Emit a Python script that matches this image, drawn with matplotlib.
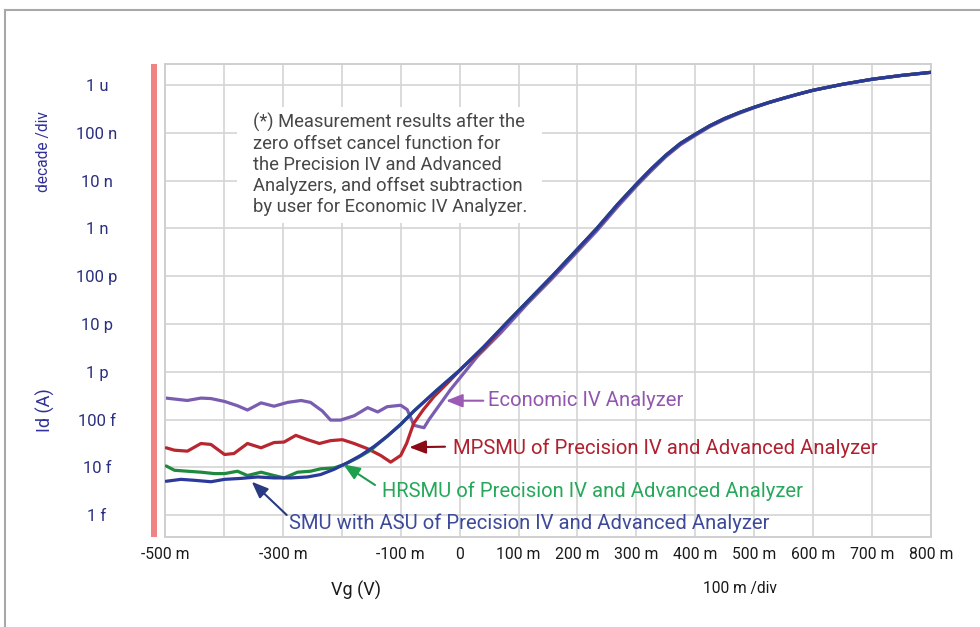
import numpy as np
import matplotlib
matplotlib.use("Agg")
import matplotlib.pyplot as plt
import matplotlib.font_manager as fm
from matplotlib.patches import Rectangle
from matplotlib.lines import Line2D

# ---------------- data (Vg in V, log10 of Id in A) ----------------
# shared on-state branch (all instruments overlap)
on_vg = [0.078, 0.157, 0.233, 0.268, 0.302, 0.325, 0.350, 0.375, 0.400, 0.425,
         0.450, 0.475, 0.500, 0.525, 0.550, 0.575, 0.600, 0.650, 0.700, 0.750, 0.800]
on_log = [-11.0, -10.0, -9.0, -8.5, -8.05, -7.76, -7.47, -7.22, -7.03, -6.85,
          -6.70, -6.575, -6.465, -6.365, -6.275, -6.19, -6.11, -5.985, -5.88, -5.80, -5.735]

# shared subthreshold part (SMU with ASU and HRSMU)
sub_vg = [-0.123, -0.100, -0.0775, -0.040, 0.000, 0.040]
sub_log = [-13.35, -13.10, -12.82, -12.40, -11.97, -11.49]

asu_vg = [-0.498, -0.473, -0.450, -0.422, -0.399, -0.371, -0.343, -0.315, -0.286,
          -0.258, -0.236, -0.213, -0.190, -0.168, -0.145]
asu_log = [-14.29, -14.25, -14.27, -14.30, -14.25, -14.23, -14.20, -14.22, -14.22,
           -14.20, -14.15, -14.04, -13.90, -13.75, -13.56]

hrsmu_vg = [-0.498, -0.484, -0.462, -0.439, -0.416, -0.399, -0.377, -0.360, -0.337,
            -0.315, -0.298, -0.275, -0.253, -0.236, -0.213, -0.196, -0.173, -0.151]
hrsmu_log = [-13.97, -14.06, -14.08, -14.10, -14.13, -14.13, -14.08, -14.17, -14.10,
             -14.17, -14.22, -14.10, -14.08, -14.03, -14.01, -13.94, -13.80, -13.64]

mpsmu_vg = [-0.498, -0.484, -0.462, -0.439, -0.422, -0.399, -0.383, -0.360, -0.337,
            -0.315, -0.298, -0.278, -0.258, -0.238, -0.219, -0.199, -0.179, -0.156,
            -0.134, -0.117, -0.100, -0.090, -0.078, -0.062, -0.0436, -0.0208,
            0.0073, 0.040]
mpsmu_log = [-13.59, -13.64, -13.66, -13.50, -13.52, -13.73, -13.71, -13.50, -13.59,
             -13.48, -13.47, -13.33, -13.42, -13.50, -13.44, -13.42, -13.50, -13.61,
             -13.75, -13.89, -13.75, -13.50, -13.08, -12.80, -12.52, -12.24,
             -11.88, -11.53]

econ_vg = [-0.498, -0.484, -0.462, -0.439, -0.422, -0.399, -0.377, -0.360, -0.337,
           -0.315, -0.292, -0.269, -0.253, -0.233, -0.219, -0.202, -0.179, -0.156,
           -0.139, -0.123, -0.100, -0.089, -0.0775, -0.0605, -0.052, -0.0153,
           0.030, 0.0695, 0.1147, 0.157, 0.233, 0.268, 0.302, 0.325, 0.350, 0.375,
           0.400, 0.425, 0.450, 0.475, 0.500, 0.525, 0.550, 0.575, 0.600, 0.650,
           0.700, 0.750, 0.800]
econ_log = [-12.55, -12.57, -12.60, -12.55, -12.56, -12.62, -12.71, -12.80, -12.65,
            -12.72, -12.64, -12.60, -12.64, -12.82, -13.01, -13.01, -12.92, -12.75,
            -12.84, -12.73, -12.70, -12.79, -13.12, -13.17, -13.00, -12.37,
            -11.68, -11.19, -10.58, -10.05, -9.05, -8.55, -8.09, -7.80, -7.50, -7.25,
            -7.055, -6.87, -6.72, -6.59, -6.475, -6.37, -6.28, -6.19, -6.11, -5.985,
            -5.88, -5.80, -5.735]

x_ticks = [-0.5, -0.4, -0.3, -0.2, -0.1, 0.0, 0.1, 0.2, 0.3, 0.4, 0.5, 0.6, 0.7, 0.8]
x_labels = ["-500 m", "", "-300 m", "", "-100 m", "0", "100 m", "200 m", "300 m",
            "400 m", "500 m", "600 m", "700 m", "800 m"]
y_ticks = [1e-15, 1e-14, 1e-13, 1e-12, 1e-11, 1e-10, 1e-9, 1e-8, 1e-7, 1e-6]
y_labels = ["1 f", "10 f", "100 f", "1 p", "10 p", "100 p", "1 n", "10 n", "100 n", "1 u"]

labels = ["Economic IV Analyzer",
          "MPSMU of Precision IV and Advanced Analyzer",
          "HRSMU of Precision IV and Advanced Analyzer",
          "SMU with ASU of Precision IV and Advanced Analyzer"]
note = ("(*) Measurement results after the\n"
        "zero offset cancel function for\n"
        "the Precision IV and Advanced\n"
        "Analyzers, and offset subtraction\n"
        "by user for Economic IV Analyzer.")

# ---------------- fonts ----------------
avail = {f.name for f in fm.fontManager.ttflist}
def pick(*names):
    for n in names:
        if n in avail:
            return n
    return "DejaVu Sans"
NARROW = pick("Liberation Sans Narrow", "Roboto")
BODY = pick("Roboto", "DejaVu Sans")

# ---------------- figure ----------------
W, H = 980, 627
fig = plt.figure(figsize=(W / 100, H / 100), dpi=100)
L, R, T, B = 165, 931, 64, 537
ax = fig.add_axes([L / W, 1 - B / H, (R - L) / W, (B - T) / H])

def series(vg_parts, log_parts):
    vg = np.concatenate([np.asarray(p, float) for p in vg_parts])
    lg = np.concatenate([np.asarray(p, float) for p in log_parts])
    return vg, np.power(10.0, lg)

c_blue, c_purple, c_red, c_green = "#2b3a9a", "#7a5cb0", "#b82630", "#1f8a3e"
lw = 2.3
kw = dict(lw=lw, solid_joinstyle="round", solid_capstyle="round")
v, i = series([econ_vg], [econ_log]);                     ax.plot(v, i, color=c_purple, zorder=2, **kw)
v, i = series([mpsmu_vg, on_vg], [mpsmu_log, on_log]);    ax.plot(v, i, color=c_red, zorder=3, **kw)
v, i = series([hrsmu_vg, sub_vg, on_vg], [hrsmu_log, sub_log, on_log]); ax.plot(v, i, color=c_green, zorder=4, **kw)
v, i = series([asu_vg, sub_vg, on_vg], [asu_log, sub_log, on_log]);     ax.plot(v, i, color=c_blue, zorder=5, **kw)

ax.set_yscale("log")
ax.set_xlim(-0.5, 0.8)
ax.set_ylim(10 ** -15.456, 10 ** -5.561)
ax.set_xticks(x_ticks)
ax.set_xticklabels(x_labels)
ax.set_yticks(y_ticks)
ax.set_yticklabels(y_labels)
ax.yaxis.set_minor_locator(matplotlib.ticker.NullLocator())
ax.tick_params(axis="both", length=0)
ax.tick_params(axis="x", pad=7, labelsize=11.3, labelcolor="#1a1a1a")
ax.tick_params(axis="y", pad=49, labelsize=12, labelcolor="#2a2f80")
for t in ax.get_xticklabels():
    t.set_fontfamily(NARROW)
for t in ax.get_yticklabels():
    t.set_fontfamily(NARROW)
    t.set_horizontalalignment("center")
ax.grid(True, color="#d4d4d4", lw=1.2)
ax.set_axisbelow(True)
for s in ax.spines.values():
    s.set_color("#cfcfcf")
    s.set_linewidth(1.4)

def axf(px, py):
    return ((px - L) / (R - L), (B - py) / (B - T))

# white note box
bx0, by0 = axf(237, 223)
bx1, by1 = axf(542, 107)
ax.add_patch(Rectangle((bx0, by0), bx1 - bx0, by1 - by0, transform=ax.transAxes,
                       facecolor="white", edgecolor="none", zorder=1.5))
tx, ty = axf(253, 164.5)
ax.text(tx, ty, note, transform=ax.transAxes, ha="left", va="center",
        color="#474747", fontsize=13.2, family=BODY, linespacing=1.2, zorder=6)

# curve labels and arrows
items = [
    (labels[0], "#9156ad", "#9b5bb5", (483.3, 400.7), (446, 400.7), (488.3, 400.7)),
    (labels[1], "#b0202e", "#8a0c16", (445, 446.7), (409.3, 447.3), (452.7, 448.3)),
    (labels[2], "#26a85a", "#1f9e4e", (375, 485), (343.3, 464.3), (381.7, 491.7)),
    (labels[3], "#3d4a9a", "#2a3a80", (286.7, 515), (251.7, 481.7), (289.3, 523.3)),
]
for text, tcol, acol, tail, tip, tpos in items:
    ax.annotate("", xy=axf(*tip), xytext=axf(*tail), xycoords="axes fraction",
                textcoords="axes fraction", zorder=7,
                arrowprops=dict(arrowstyle="-|>,head_length=1.0,head_width=0.4",
                                color=acol, lw=1.5, shrinkA=0, shrinkB=0,
                                mutation_scale=10))
    ax.text(*axf(*tpos), text, transform=ax.transAxes, ha="left", va="center",
            color=tcol, fontsize=14.6, family=NARROW, zorder=7)

# axis captions
fig.text(356 / W, 1 - 590 / H, "Vg (V)", ha="center", va="center",
         fontsize=13, family=NARROW, color="#1a1a1a")
fig.text(740 / W, 1 - 588 / H, "100 m /div", ha="center", va="center",
         fontsize=11.2, family=NARROW, color="#1a1a1a")
fig.text(43 / W, 1 - 152 / H, "decade /div", ha="center", va="center", rotation=90,
         fontsize=11.2, family=NARROW, color="#30309a")
fig.text(45 / W, 1 - 410 / H, "Id (A)", ha="center", va="center", rotation=90,
         fontsize=13, family=NARROW, color="#30309a")

# pink bar and outer frame
fig.patches.append(Rectangle((151 / W, 1 - B / H), 6 / W, (B - T) / H,
                             transform=fig.transFigure, facecolor="#f08484",
                             edgecolor="none"))
fig.lines.append(Line2D([4.5 / W, 1], [1 - 10 / H, 1 - 10 / H], transform=fig.transFigure,
                        color="#a8a8a8", lw=1.5))
fig.lines.append(Line2D([4.5 / W, 4.5 / W], [1 - 10 / H, 0], transform=fig.transFigure,
                        color="#a8a8a8", lw=1.5))

fig.savefig("out.png", dpi=100)
